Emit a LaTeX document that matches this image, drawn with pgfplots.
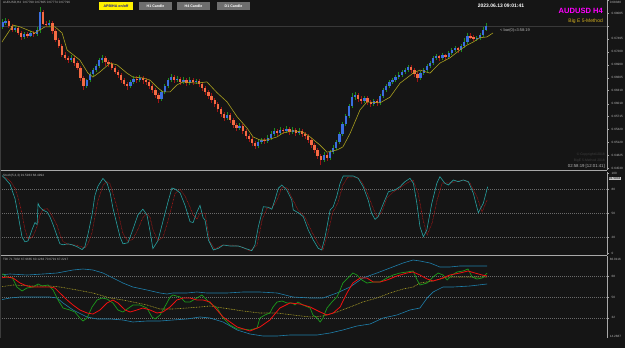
\documentclass[border=0pt]{standalone}
\usepackage{pgfplots}
\pgfplotsset{compat=1.18}
\usepackage{pgfplotstable}
\usepackage{fontspec}
\setmainfont{Liberation Sans}
\definecolor{cBg}{HTML}{151515}
\definecolor{cAx}{HTML}{A8A8A8}
\definecolor{cLab}{HTML}{B8B8B8}
\definecolor{cGrid}{HTML}{6A6A6A}
\definecolor{cBull}{HTML}{3A6FE0}
\definecolor{cBear}{HTML}{F46A43}
\definecolor{cWickUp}{HTML}{1E8C1E}
\definecolor{cWickDn}{HTML}{A01414}
\definecolor{cMA}{HTML}{A89E1E}
\definecolor{cStochK}{HTML}{26A0A0}
\definecolor{cStochD}{HTML}{B41818}
\definecolor{cBand}{HTML}{1E7EAA}
\definecolor{cBase}{HTML}{B0A428}
\definecolor{cRsi}{HTML}{1C9A1C}
\definecolor{cSig}{HTML}{F01010}
\definecolor{cBid}{HTML}{383838}
\definecolor{cBox}{HTML}{C8C8C8}
\definecolor{cEdge}{HTML}{3C3C3C}
\definecolor{cBtn}{HTML}{6E6E6E}
\definecolor{cBtnTxt}{HTML}{141496}
\definecolor{cMag}{HTML}{FF00FF}
\definecolor{cGold}{HTML}{D4B020}
\definecolor{cFaint}{HTML}{404040}
\newcommand{\tf}{\fontsize{3.1}{3.4}\selectfont}
\pgfplotstableread{
i o h l c
0 0.6777 0.6795 0.6772 0.6788
1 0.6788 0.6797 0.6781 0.6790
2 0.6790 0.6795 0.6774 0.6779
3 0.6779 0.6784 0.6765 0.6770
4 0.6770 0.6779 0.6765 0.6774
5 0.6774 0.6777 0.6758 0.6763
6 0.6763 0.6768 0.6747 0.6754
7 0.6754 0.6765 0.6749 0.6761
8 0.6761 0.6765 0.6752 0.6756
9 0.6756 0.6768 0.6754 0.6763
10 0.6763 0.6768 0.6754 0.6761
11 0.6761 0.6777 0.6756 0.6770
12 0.6770 0.6822 0.6763 0.6811
13 0.6811 0.6816 0.6781 0.6784
14 0.6784 0.6790 0.6777 0.6781
15 0.6781 0.6793 0.6777 0.6786
16 0.6786 0.6790 0.6761 0.6768
17 0.6768 0.6772 0.6742 0.6747
18 0.6747 0.6752 0.6729 0.6733
19 0.6733 0.6738 0.6708 0.6713
20 0.6713 0.6719 0.6701 0.6706
21 0.6706 0.6710 0.6694 0.6701
22 0.6701 0.6713 0.6697 0.6706
23 0.6706 0.6710 0.6687 0.6694
24 0.6694 0.6699 0.6678 0.6683
25 0.6683 0.6687 0.6653 0.6660
26 0.6660 0.6665 0.6632 0.6642
27 0.6642 0.6658 0.6637 0.6655
28 0.6655 0.6674 0.6651 0.6669
29 0.6669 0.6683 0.6665 0.6678
30 0.6678 0.6692 0.6674 0.6687
31 0.6687 0.6706 0.6683 0.6701
32 0.6701 0.6713 0.6694 0.6706
33 0.6706 0.6710 0.6687 0.6697
34 0.6697 0.6701 0.6685 0.6692
35 0.6692 0.6697 0.6678 0.6683
36 0.6683 0.6687 0.6669 0.6674
37 0.6674 0.6678 0.6660 0.6667
38 0.6667 0.6671 0.6648 0.6655
39 0.6655 0.6660 0.6642 0.6646
40 0.6646 0.6651 0.6632 0.6642
41 0.6642 0.6655 0.6637 0.6651
42 0.6651 0.6665 0.6646 0.6658
43 0.6658 0.6665 0.6648 0.6655
44 0.6655 0.6667 0.6651 0.6660
45 0.6660 0.6665 0.6646 0.6655
46 0.6655 0.6660 0.6644 0.6651
47 0.6651 0.6655 0.6635 0.6642
48 0.6642 0.6646 0.6626 0.6632
49 0.6632 0.6637 0.6614 0.6621
50 0.6621 0.6626 0.6603 0.6612
51 0.6612 0.6632 0.6607 0.6628
52 0.6628 0.6646 0.6623 0.6642
53 0.6642 0.6660 0.6637 0.6655
54 0.6655 0.6669 0.6651 0.6662
55 0.6662 0.6667 0.6648 0.6655
56 0.6655 0.6665 0.6651 0.6658
57 0.6658 0.6662 0.6644 0.6651
58 0.6651 0.6662 0.6646 0.6655
59 0.6655 0.6660 0.6642 0.6648
60 0.6648 0.6662 0.6644 0.6655
61 0.6655 0.6660 0.6644 0.6651
62 0.6651 0.6658 0.6646 0.6653
63 0.6653 0.6658 0.6639 0.6646
64 0.6646 0.6651 0.6630 0.6637
65 0.6637 0.6642 0.6621 0.6628
66 0.6628 0.6632 0.6612 0.6619
67 0.6619 0.6626 0.6603 0.6610
68 0.6610 0.6614 0.6594 0.6600
69 0.6600 0.6605 0.6582 0.6589
70 0.6589 0.6594 0.6571 0.6577
71 0.6577 0.6582 0.6561 0.6568
72 0.6568 0.6582 0.6564 0.6575
73 0.6575 0.6580 0.6557 0.6564
74 0.6564 0.6568 0.6545 0.6552
75 0.6552 0.6557 0.6539 0.6545
76 0.6545 0.6557 0.6541 0.6550
77 0.6550 0.6555 0.6532 0.6539
78 0.6539 0.6543 0.6520 0.6527
79 0.6527 0.6532 0.6513 0.6520
80 0.6520 0.6525 0.6504 0.6511
81 0.6511 0.6516 0.6497 0.6504
82 0.6504 0.6520 0.6500 0.6513
83 0.6513 0.6523 0.6509 0.6518
84 0.6518 0.6523 0.6509 0.6516
85 0.6516 0.6529 0.6511 0.6523
86 0.6523 0.6539 0.6518 0.6532
87 0.6532 0.6545 0.6527 0.6539
88 0.6539 0.6543 0.6527 0.6534
89 0.6534 0.6548 0.6529 0.6541
90 0.6541 0.6545 0.6532 0.6539
91 0.6539 0.6550 0.6534 0.6543
92 0.6543 0.6548 0.6529 0.6536
93 0.6536 0.6548 0.6532 0.6541
94 0.6541 0.6545 0.6527 0.6534
95 0.6534 0.6545 0.6529 0.6539
96 0.6539 0.6543 0.6525 0.6532
97 0.6532 0.6536 0.6520 0.6527
98 0.6527 0.6532 0.6511 0.6518
99 0.6518 0.6523 0.6500 0.6506
100 0.6506 0.6511 0.6488 0.6495
101 0.6495 0.6500 0.6474 0.6481
102 0.6481 0.6486 0.6461 0.6472
103 0.6472 0.6490 0.6468 0.6484
104 0.6484 0.6488 0.6470 0.6477
105 0.6477 0.6495 0.6472 0.6490
106 0.6490 0.6506 0.6486 0.6500
107 0.6500 0.6518 0.6495 0.6513
108 0.6513 0.6536 0.6509 0.6532
109 0.6532 0.6559 0.6527 0.6555
110 0.6555 0.6577 0.6550 0.6573
111 0.6573 0.6600 0.6568 0.6596
112 0.6596 0.6626 0.6591 0.6616
113 0.6616 0.6628 0.6610 0.6621
114 0.6621 0.6626 0.6605 0.6612
115 0.6612 0.6619 0.6600 0.6607
116 0.6607 0.6619 0.6603 0.6614
117 0.6614 0.6619 0.6598 0.6605
118 0.6605 0.6610 0.6594 0.6600
119 0.6600 0.6612 0.6596 0.6607
120 0.6607 0.6612 0.6596 0.6603
121 0.6603 0.6623 0.6598 0.6619
122 0.6619 0.6637 0.6614 0.6632
123 0.6632 0.6646 0.6628 0.6642
124 0.6642 0.6655 0.6637 0.6651
125 0.6651 0.6660 0.6646 0.6655
126 0.6655 0.6667 0.6651 0.6662
127 0.6662 0.6674 0.6658 0.6667
128 0.6667 0.6678 0.6662 0.6674
129 0.6674 0.6683 0.6669 0.6678
130 0.6678 0.6690 0.6674 0.6685
131 0.6685 0.6690 0.6671 0.6678
132 0.6678 0.6683 0.6662 0.6669
133 0.6669 0.6674 0.6651 0.6660
134 0.6660 0.6676 0.6655 0.6671
135 0.6671 0.6683 0.6667 0.6678
136 0.6678 0.6692 0.6674 0.6687
137 0.6687 0.6699 0.6683 0.6694
138 0.6694 0.6710 0.6690 0.6706
139 0.6706 0.6715 0.6701 0.6710
140 0.6710 0.6713 0.6699 0.6706
141 0.6706 0.6717 0.6701 0.6713
142 0.6713 0.6715 0.6701 0.6708
143 0.6708 0.6722 0.6703 0.6717
144 0.6717 0.6729 0.6713 0.6724
145 0.6724 0.6733 0.6719 0.6729
146 0.6729 0.6731 0.6717 0.6724
147 0.6724 0.6738 0.6719 0.6733
148 0.6733 0.6752 0.6729 0.6742
149 0.6742 0.6763 0.6738 0.6756
150 0.6756 0.6763 0.6749 0.6754
151 0.6754 0.6758 0.6745 0.6749
152 0.6749 0.6756 0.6745 0.6752
153 0.6752 0.6763 0.6747 0.6758
154 0.6758 0.6777 0.6754 0.6770
155 0.6770 0.6786 0.6768 0.6779
}\candles
\pgfplotsset{
  panel/.style={scale only axis, width=605bp,
    xmin=-0.16, xmax=193.75, axis x line=none, axis y line*=right,
    y axis line style={draw=cAx, line width=0.6bp},
    tick style={draw=cAx, line width=0.4bp}, major tick length=2bp, tick align=outside,
    yticklabel style={font=\tf, text=cLab, anchor=west, xshift=-0.8bp},
    scaled y ticks=false, clip=true},
  lvl/.style={ymajorgrids, grid style={draw=cGrid, dash pattern=on 0.8bp off 1.2bp, line width=0.5bp}},
}
\begin{document}
\begin{tikzpicture}[x=1bp,y=1bp]
\fill[cBg] (0,0) rectangle (625,348);
% ---------- main price panel
\begin{axis}[panel, at={(2bp,178bp)}, anchor=south west, height=170bp, ymin=0.64492, ymax=0.68385,
  ytick={0.64530,0.64825,0.65120,0.65420,0.65715,0.66010,0.66310,0.66605,0.66900,0.67200,0.67495,0.67790,0.68085,0.68380},
  yticklabels={0.64530,0.64825,0.65120,0.65420,0.65715,0.66010,0.66310,0.66605,0.66900,0.67200,0.67495,,0.68085,}]
\addplot[draw=cBid, line width=0.4bp] coordinates {(-0.16,0.6779) (193.75,0.6779)};
\addplot[draw=none, mark=none, restrict expr to domain={\thisrow{c}-\thisrow{o}}{0:1},
  error bars/.cd, y dir=both, y explicit, error mark=none,
  error bar style={draw=cWickUp, line width=0.6bp, solid}]
  table[x=i, y expr={(\thisrow{h}+\thisrow{l})/2}, y error expr={(\thisrow{h}-\thisrow{l})/2}] {\candles};
\addplot[draw=none, mark=none, restrict expr to domain={\thisrow{c}-\thisrow{o}}{-1:-0.00001},
  error bars/.cd, y dir=both, y explicit, error mark=none,
  error bar style={draw=cWickDn, line width=0.6bp, solid}]
  table[x=i, y expr={(\thisrow{h}+\thisrow{l})/2}, y error expr={(\thisrow{h}-\thisrow{l})/2}] {\candles};
\addplot[draw=none, mark=none, restrict expr to domain={\thisrow{c}-\thisrow{o}}{0:1},
  error bars/.cd, y dir=both, y explicit, error mark=none,
  error bar style={draw=cBull, line width=2.3bp, solid}]
  table[x=i, y expr={(\thisrow{o}+\thisrow{c})/2}, y error expr={abs(\thisrow{c}-\thisrow{o})/2}] {\candles};
\addplot[draw=none, mark=none, restrict expr to domain={\thisrow{c}-\thisrow{o}}{-1:-0.00001},
  error bars/.cd, y dir=both, y explicit, error mark=none,
  error bar style={draw=cBear, line width=2.3bp, solid}]
  table[x=i, y expr={(\thisrow{o}+\thisrow{c})/2}, y error expr={abs(\thisrow{c}-\thisrow{o})/2}] {\candles};
\addplot[draw=cMA, line width=0.6bp] coordinates {
(-0.2,0.6742) (3.4,0.6781) (5.6,0.6777) (10.4,0.6763) (13.6,0.6777) (16.8,0.6777) (19.1,0.6763)
(20.7,0.6724) (24.8,0.6701) (27.4,0.6671) (29.0,0.6662) (31.25,0.6674) (34.5,0.6694) (36.7,0.6690)
(39.9,0.6671) (41.8,0.6662) (45.0,0.6660) (47.3,0.6655) (49.5,0.6639) (51.4,0.6628) (53.7,0.6628)
(55.9,0.6644) (57.9,0.6651) (62.3,0.6648) (65.5,0.6651) (68.8,0.6626) (72.0,0.6605) (75.2,0.6571)
(78.4,0.6545) (80.3,0.6525) (82.5,0.6518) (84.8,0.6518) (88.0,0.6525) (89.9,0.6534) (93.1,0.6539)
(96.3,0.6536) (98.6,0.6525) (101.8,0.6506) (104.0,0.6490) (107.2,0.6495) (109.1,0.6502) (111.4,0.6533)
(114.6,0.6587) (116.8,0.6605) (121.0,0.6603) (124.2,0.6616) (127.4,0.6648) (131.6,0.6671) (133.8,0.6678)
(137.0,0.6671) (140.2,0.6694) (143.4,0.6706) (146.6,0.6724) (148.8,0.6735) (150.8,0.6742) (153.0,0.6752)
(155.3,0.6754) (157.2,0.6763)};
\node[fill=cBox, text=black, font=\tf, inner xsep=0.6bp, inner ysep=0.5bp, anchor=west] at (axis cs:193.75,0.6779) {0.67790};
\end{axis}
% ---------- stochastic panel
\begin{axis}[panel, lvl, at={(2bp,93bp)}, anchor=south west, height=83bp, ymin=-2, ymax=102,
  ytick={20,50,80}, yticklabels={20,50,80},
  extra y ticks={0,100}, extra y tick labels={0,100}, extra y tick style={grid=none}]
\addplot[draw=cStochD, line width=0.55bp, dash pattern=on 0.7bp off 0.7bp] coordinates {
(-0.16,96) (1,95) (2.4,91) (4,82) (5,70) (6.25,50) (7.2,30) (8.2,18) (9.5,20) (10.4,27) (11.4,38) (12,48)
(13,55) (14.3,56) (15.2,52) (16.2,45) (17.5,35) (18.4,24) (19.4,15) (21,11) (22.3,11) (23.9,10) (25.5,8)
(26.4,7) (27.4,12) (28.7,26) (29.6,45) (30.6,66) (32.2,85) (33.5,90) (34.5,87) (35.4,75) (36.7,58)
(37.7,40) (38.6,25) (40.2,15) (41.8,18) (43.4,30) (45,45) (46.3,50) (47.3,45) (48.2,30) (49.8,16)
(51.4,20) (53,40) (54.3,60) (55.3,75) (56.9,80) (58.5,72) (60.1,58) (61.1,48) (62.3,43) (63.3,50)
(64.9,50.6) (66.5,14.3) (68.1,5.5) (70.4,10.5) (73.6,10.5) (76.8,8.0) (79.3,3.0) (81.6,10.5) (83.2,41.9)
(84.8,56.9) (86.4,56.9) (88.0,66.9) (89.6,83.2) (91.2,82.0) (93.1,66.9) (94.7,54.4) (96.9,45.6) (99.2,26.8)
(101.1,13.0) (102.7,4.3) (104.3,25.6) (105.9,51.9) (107.5,63.2) (109.1,85.7) (110.7,95.7) (113.6,95.7)
(115.2,89.5) (116.8,77.0) (118.4,60.7) (120.0,45.6) (121.6,51.9) (123.2,69.4) (125.2,77.0) (127.4,82.0)
(129.6,88.2) (131.6,92.0) (133.2,75.7) (134.8,41.9) (136.1,23.1) (137.7,38.1) (139.3,66.9) (140.9,88.2)
(142.8,88.2) (145.0,89.5) (147.6,92.0) (149.8,88.2) (152.1,70.7) (153.7,51.9) (155.3,66.9)};
\addplot[draw=cStochK, line width=0.6bp] coordinates {
(-0.16,97.5) (0.8,94.0) (2.4,86.7) (4.0,68.7) (5.0,48.2) (6.25,20.5) (7.2,14.5) (8.2,15.7) (9.5,30.1)
(10.4,38.6) (11.1,36.1) (11.4,62.7) (12.0,57.8) (13.0,54.2) (14.3,51.8) (15.2,45.8) (16.2,36.1)
(17.5,21.7) (18.4,12.0) (19.4,10.8) (21.0,12.0) (22.3,10.8) (23.9,8.4) (25.5,4.8) (26.4,8.4) (27.4,24.1)
(28.7,48.2) (29.6,72.3) (30.6,84.3) (32.2,94.0) (33.5,88.0) (34.5,75.9) (35.4,56.6) (36.7,36.1)
(37.7,20.5) (38.6,12.0) (40.2,13.3) (41.8,30.1) (43.4,48.2) (45.0,55.4) (46.3,48.2) (47.3,27.7)
(48.2,6.0) (49.8,15.7) (51.4,39.8) (53.0,63.9) (54.3,81.9) (55.3,80.7) (56.9,75.9) (58.5,60.2)
(60.1,39.8) (61.1,38.6) (62.3,51.8) (63.3,60.2) (64.3,44.6) (64.9,41.9) (66.0,16.8) (67.6,4.3) (69.2,6.4)
(70.8,10.5) (72.9,9.3) (75.6,9.3) (77.7,6.4) (79.9,3.4) (80.9,10.5) (82.0,33.5) (83.6,58.5) (85.2,57.8)
(86.3,55.3) (87.3,66.9) (88.4,81.6) (89.5,85.7) (91.1,79.5) (92.7,66.9) (93.2,54.4) (94.8,51.0) (96.4,46.0)
(98.0,29.3) (99.6,16.8) (101.2,6.4) (102.3,4.3) (103.4,20.9) (105.0,54.4) (106.0,58.5) (107.1,71.1)
(108.2,87.8) (109.2,97.0) (110.8,97.0) (112.4,97.0) (114.0,94.1) (115.6,83.6) (117.2,66.9) (118.3,50.3)
(119.4,42.7) (120.4,46.0) (122.1,62.8) (123.7,77.3) (125.8,79.5) (127.4,83.6) (129.0,89.9) (130.6,94.1)
(131.7,87.8) (132.8,62.8) (133.8,33.5) (134.9,20.9) (136.0,29.3) (137.6,62.8) (139.2,87.8) (140.2,96.1)
(141.8,87.8) (142.9,85.7) (144.5,92.0) (146.1,89.9) (147.7,92.0) (149.3,89.9) (150.9,75.3) (152.5,51.0)
(154.1,62.8) (155.5,83.6)};
\end{axis}
% ---------- TDI panel
\begin{axis}[panel, lvl, at={(2bp,10bp)}, anchor=south west, height=82bp, ymin=14.2887, ymax=86.0116,
  ytick={32,50,68}, yticklabels={32,50,68},
  axis x line*=bottom, x axis line style={draw=cAx, line width=0.6bp},
  xtick={0,8,...,152},
  xticklabels={8 May 2023,9 May 20:00,11 May 04:00,12 May 12:00,15 May 20:00,17 May 04:00,18 May 12:00,19 May 20:00,23 May 04:00,24 May 12:00,25 May 20:00,29 May 04:00,30 May 12:00,31 May 20:00,2 Jun 04:00,5 Jun 12:00,6 Jun 20:00,8 Jun 04:00,9 Jun 12:00,12 Jun 20:00},
  xticklabel style={font=\tf, text=cLab, anchor=north west, xshift=0.3bp, yshift=0.8bp},
  xmajorgrids=false]
\addplot[draw=cBand, line width=0.6bp] coordinates {
(-0.16,69.6) (2.4,70.27) (7.85,69.39) (13.0,70.27) (17.5,71.14) (22.6,73.77) (25.8,74.64) (29.0,73.77)
(32.2,71.14) (35.4,66.77) (38.6,62.39) (41.8,58.90) (46.3,56.27) (50.5,53.65) (52.7,52.77) (54.6,53.65)
(59.1,53.65) (62.3,54.52) (65.5,53.65) (72.0,53.65) (77.1,54.52) (82.5,54.52) (88.0,53.65) (93.1,50.15)
(98.6,49.27) (102.7,49.27) (107.2,53.65) (111.4,58.90) (115.5,66.77) (120.0,71.14) (124.2,75.51)
(128.4,79.89) (131.6,82.51) (133.8,81.64) (137.0,79.89) (140.2,76.39) (143.4,76.39) (146.6,77.26)
(149.8,77.26) (155.3,77.26)};
\addplot[draw=cBand, line width=0.6bp] coordinates {
(-0.16,47.9) (2.4,49.27) (5.6,50.15) (9.8,50.15) (15.2,50.15) (17.5,49.27) (19.4,44.90) (22.6,38.78)
(27.1,32.66) (30.3,30.91) (34.5,30.91) (38.6,30.03) (41.8,28.29) (46.3,29.16) (50.5,29.16) (54.6,30.03)
(59.1,30.91) (63.3,32.66) (66.5,31.79) (70.7,28.29) (75.2,21.29) (79.3,17.79) (83.5,16.04) (88.0,16.04)
(92.1,16.91) (96.3,16.91) (100.8,16.91) (105.0,18.66) (109.1,21.29) (113.6,24.78) (117.8,26.53)
(122.0,31.79) (126.4,34.41) (130.6,38.78) (133.8,40.53) (136.1,49.27) (138.0,54.52) (141.2,58.90)
(144.4,58.90) (149.8,59.77) (155.3,61.52)};
\addplot[draw=cBase, line width=0.6bp, dash pattern=on 0.8bp off 0.8bp] coordinates {
(-0.16,59.2) (3.4,60.65) (9.8,59.77) (15.2,59.77) (18.4,58.90) (23.9,56.27) (29.0,53.65) (34.5,49.27)
(38.6,47.53) (41.8,45.78) (46.3,43.16) (50.5,39.66) (54.6,39.66) (59.1,40.53) (63.3,41.41) (66.5,42.28)
(70.7,40.53) (77.1,37.91) (82.5,36.16) (88.0,36.16) (93.1,34.41) (98.6,32.66) (102.7,33.54) (107.2,37.03)
(111.4,41.41) (115.5,45.78) (120.0,49.27) (124.2,53.65) (128.4,57.15) (131.6,58.90) (133.8,62.39)
(138.0,64.14) (142.5,67.64) (147.6,67.64) (150.8,67.64) (155.3,67.64)};
\addplot[draw=cRsi, line width=0.7bp] coordinates {
(-0.16,69.9) (0.16,70.27) (1.44,67.64) (3.2,66.77) (4.6,58.90) (6.25,55.40) (7.85,58.02) (9.8,58.90)
(11.4,61.52) (12.7,59.77) (14.6,60.65) (16.2,56.27) (17.8,47.53) (19.4,40.53) (21.6,38.78) (23.2,37.03)
(24.8,31.79) (25.8,29.16) (27.1,31.79) (28.7,41.41) (30.3,47.53) (31.9,49.27) (33.5,48.40) (35.4,44.90)
(37.0,38.78) (38.6,37.03) (40.9,41.41) (41.8,43.16) (44.1,43.16) (46.3,40.53) (47.9,32.66) (48.9,30.91)
(50.5,34.41) (52.7,44.90) (53.7,50.15) (54.6,51.90) (56.9,50.15) (58.5,45.78) (60.1,45.78) (62.3,49.27)
(63.9,51.90) (65.5,47.53) (66.5,44.90) (68.8,40.53) (70.7,31.79) (72.9,25.66) (75.2,22.16) (77.1,22.16)
(79.3,21.29) (81.6,23.03) (82.5,31.79) (84.1,34.41) (85.7,36.16) (86.7,41.41) (88.0,45.78) (89.6,46.65)
(91.2,44.90) (92.8,44.90) (93.75,43.16) (94.7,45.78) (96.3,43.16) (98.6,40.53) (99.5,34.41) (100.8,31.79)
(101.8,28.29) (102.7,31.79) (104.0,40.53) (105.6,45.78) (107.2,50.15) (108.2,56.27) (109.1,62.39)
(110.7,66.77) (112.3,71.14) (113.6,69.39) (115.2,65.02) (116.8,62.39) (118.8,63.27) (121.0,63.27)
(123.2,66.77) (125.2,69.39) (127.4,71.14) (129.6,72.02) (131.6,72.89) (132.9,65.02) (133.8,60.65)
(136.1,62.39) (138.0,67.64) (139.6,71.14) (141.2,69.39) (142.5,65.02) (144.1,69.39) (145.7,72.02)
(147.6,72.89) (149.2,74.64) (150.5,67.64) (152.1,65.89) (153.7,66.77) (155.3,71.14)};
\addplot[draw=cSig, line width=0.8bp] coordinates {
(-0.16,67.0) (1.44,67.64) (3.4,66.77) (5.6,62.39) (7.85,59.77) (9.8,58.90) (12.0,58.90) (15.2,58.90)
(16.8,58.02) (18.4,53.65) (20.7,47.53) (22.6,43.16) (24.8,38.78) (27.1,36.16) (29.0,35.29) (31.25,38.78)
(33.5,44.90) (35.4,47.53) (37.0,44.90) (39.3,38.78) (40.9,37.03) (43.1,38.78) (45.0,40.53) (47.3,38.78)
(49.5,36.16) (51.4,37.03) (53.7,41.41) (55.9,47.53) (57.9,49.27) (60.1,49.27) (62.3,47.53) (64.3,47.53)
(66.5,45.78) (70.7,32.66) (75.2,23.91) (79.3,20.41) (82.5,23.91) (85.7,30.03) (88.9,40.53) (92.1,44.90)
(95.4,44.03) (98.6,41.41) (101.8,37.03) (104.0,34.41) (106.0,36.16) (108.2,41.41) (110.4,53.65)
(112.3,62.39) (114.6,66.77) (116.8,66.77) (118.8,63.27) (121.0,63.27) (123.2,64.99) (126.4,68.52)
(129.6,71.14) (131.6,72.02) (133.8,69.39) (136.1,65.89) (138.0,64.14) (140.2,65.89) (143.4,69.39)
(146.6,71.14) (149.2,72.89) (151.4,71.14) (153.7,69.39) (155.3,68.52)};
\end{axis}
% ---------- frame and separators
\draw[cAx, line width=0.7bp] (0,177.2) -- (607,177.2);
\draw[cAx, line width=0.7bp] (0,92.6) -- (607,92.6);
\draw[cEdge, line width=1bp] (0.8,10) -- (0.8,348);
% ---------- texts
\node[anchor=north west, inner sep=0, font=\tf, text=cLab] at (3,346.5) {AUDUSD,H4 \ 0.67799 0.67805 0.67774 0.67796};
\node[fill=yellow, text=cBtnTxt, font=\fontsize{3.6}{4}\selectfont\bfseries, minimum width=34bp, minimum height=8bp, inner sep=0] at (116,342) {APB/HA on/off};
\node[fill=cBtn, text=white, font=\fontsize{3.6}{4}\selectfont\bfseries, minimum width=33bp, minimum height=8bp, inner sep=0] at (155.5,342) {H1 Candle};
\node[fill=cBtn, text=white, font=\fontsize{3.6}{4}\selectfont\bfseries, minimum width=33bp, minimum height=8bp, inner sep=0] at (193.5,342) {H4 Candle};
\node[fill=cBtn, text=white, font=\fontsize{3.6}{4}\selectfont\bfseries, minimum width=33bp, minimum height=8bp, inner sep=0] at (233.5,342) {D1 Candle};
\node[text=white, font=\fontsize{5}{6}\selectfont\bfseries, inner sep=0] at (501,342.5) {2023.06.13 09:01:41};
\node[anchor=east, text=cMag, font=\fontsize{7.6}{8}\selectfont\bfseries, inner sep=0] at (603,337.5) {AUDUSD H4};
\node[anchor=east, text=cGold, font=\fontsize{5}{6}\selectfont, inner sep=0] at (603,327) {Big E 5-Method};
\node[anchor=west, text=cLab, font=\fontsize{4}{5}\selectfont, inner sep=0] at (500,318) {< bar(0)=3:58:19};
\node[anchor=east, text=cFaint, font=\fontsize{3.4}{4}\selectfont, inner sep=0] at (605,193) {© Copyright©2018};
\node[anchor=east, text=cFaint, font=\fontsize{3.4}{4}\selectfont, inner sep=0] at (605,187.5) {BigE 5-Method 2018};
\node[anchor=east, text=cLab, font=\fontsize{4.3}{5}\selectfont, inner sep=0] at (605,182) {02:58:19 [12:01:41]};
\node[anchor=west, text=cLab, font=\tf, inner sep=0] at (3,172.5) {Stoch(5,3,3) 91.5933 68.4994};
\node[anchor=west, text=cLab, font=\tf, inner sep=0] at (3,88.5) {TDI 71.7932 67.9665 60.1283 70.6791 67.2217};
\node[anchor=west, text=cLab, font=\tf, inner sep=0] at (609.7,346) {0.68380};
\node[anchor=west, fill=cBox, text=black, font=\tf, inner xsep=0.5bp, inner ysep=0.3bp] at (608.5,169.6) {91.5933};
\node[anchor=west, text=cLab, font=\tf, inner sep=0] at (609.7,89) {86.0116};
\node[anchor=west, text=cLab, font=\tf, inner sep=0] at (609.7,11.5) {14.2887};
\pgfresetboundingbox
\useasboundingbox (0,0) rectangle (625,348);
\end{tikzpicture}
\end{document}
